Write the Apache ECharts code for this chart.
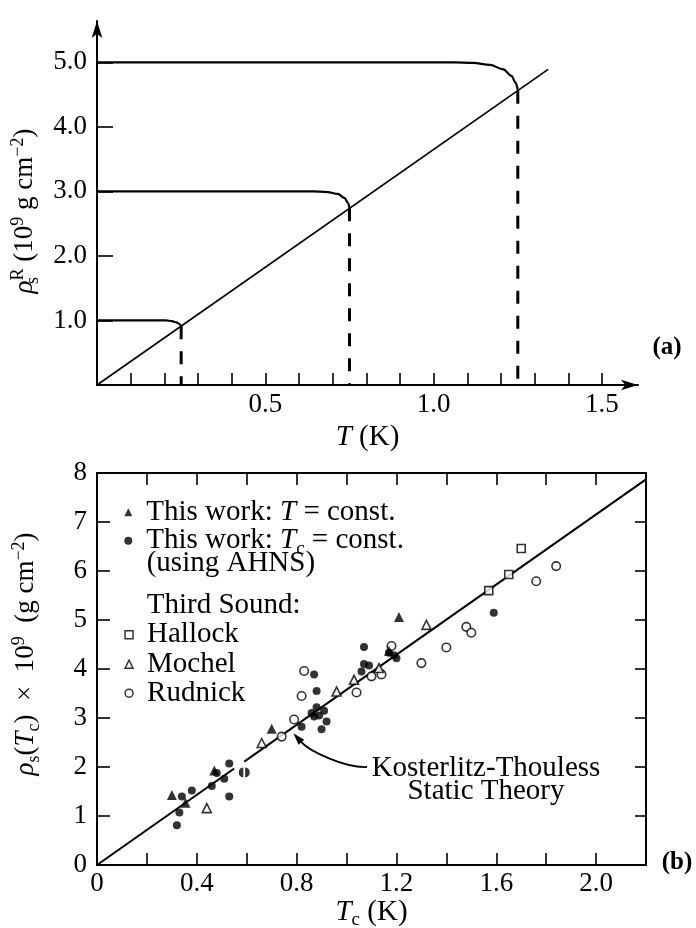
<!DOCTYPE html>
<html>
<head>
<meta charset="utf-8">
<script src="https://cdn.jsdelivr.net/npm/echarts@6/dist/echarts.min.js"></script>
<style>
html,body{margin:0;padding:0;background:#fff;}
#c{width:696px;height:928px;}
</style>
</head>
<body>
<div id="c"></div>
<script>
// ---------- panel (a): renormalized superfluid density vs T ----------
const tTickValues = [0.1,0.2,0.3,0.4,0.5,0.6,0.7,0.8,0.9,1.0,1.1,1.2,1.3,1.4,1.5];
const tLabelValues = [0.5, 1.0, 1.5];
const rhoTickValues = [1, 2, 3, 4, 5];
const curveRho1 = [[0,1.0],[0.205,1.0],[0.222,0.99],[0.236,0.97],[0.245,0.945],[0.25,0.912]];
const curveRho3 = [[0,3.0],[0.64,3.0],[0.685,2.99],[0.715,2.96],[0.735,2.9],[0.746,2.82],[0.75,2.737]];
const curveRho5 = [[0,5.0],[1.06,5.0],[1.117,4.99],[1.167,4.96],[1.207,4.89],[1.231,4.79],[1.244,4.68],[1.25,4.561]];
const dropAt025 = [[0.25,0.912],[0.25,0]];
const dropAt075 = [[0.75,2.737],[0.75,0]];
const dropAt125 = [[1.25,4.561],[1.25,0]];
const universalLine = [[0,0],[1.34,4.89]];

// ---------- panel (b): rho_s(Tc) vs Tc ----------
const tcTickLabels = [0, 0.4, 0.8, 1.2, 1.6, 2.0];
const thisWorkT = [[0.30,1.43],[0.355,1.27],[0.47,1.93],[0.70,2.78],[1.17,4.37],[1.21,5.06]];
const thisWorkTc = [[0.32,0.81],[0.33,1.07],[0.34,1.40],[0.38,1.52],[0.46,1.61],[0.48,1.88],[0.51,1.76],
  [0.53,1.40],[0.53,2.07],[0.82,2.82],[0.86,3.10],[0.87,3.03],[0.88,3.22],[0.89,3.05],[0.91,3.15],
  [0.92,2.93],[0.90,2.77],[0.87,3.89],[0.88,3.55],[1.06,3.95],[1.07,4.10],[1.09,4.07],[1.07,4.45],
  [1.17,4.33],[1.19,4.28],[1.20,4.22],[1.59,5.15]];
const thisWorkTcPair = [[0.59,1.89]];
const hallock = [[1.57,5.60],[1.65,5.93],[1.70,6.46]];
const mochel = [[0.44,1.16],[0.66,2.49],[0.96,3.54],[1.03,3.78],[1.13,4.02],[1.32,4.90]];
const rudnick = [[0.74,2.62],[0.79,2.97],[0.82,3.45],[0.83,3.96],[1.04,3.52],[1.10,3.85],[1.14,3.89],
  [1.18,4.47],[1.30,4.12],[1.40,4.44],[1.48,4.86],[1.50,4.74],[1.76,5.79],[1.84,6.10]];
const ktTheoryLow = [[0,0],[0.55,1.97]];
const ktTheoryHigh = [[0.59,2.11],[2.2,7.87]];
const ktArrowTarget = [0.787, 2.69];

const SERIF = '"Liberation Serif", "DejaVu Serif", serif';
const INK = '#000';

function richSet(F, LH) {
  const s = Math.round(F * 0.66);
  const base = { fontFamily: SERIF, color: INK, lineHeight: LH };
  return {
    r:   Object.assign({}, base, { fontSize: F }),
    f:   Object.assign({}, base, { fontSize: F, padding: [0, 0, 0, 9] }),
    i:   Object.assign({}, base, { fontSize: F, fontStyle: 'italic' }),
    sub: Object.assign({}, base, { fontSize: s, padding: [Math.round(F * 0.58), 0, 0, 0] }),
    subz:Object.assign({}, base, { fontSize: s, width: 0, padding: [Math.round(F * 0.58), 0, 0, 0] }),
    sup: Object.assign({}, base, { fontSize: s, padding: [0, 0, Math.round(F * 0.5), 0] })
  };
}

const tickFont = (F) => ({ fontFamily: SERIF, fontSize: F, color: INK });
const axisLineStyle = { color: INK, width: 2 };
const tickLineStyle = { color: INK, width: 1.6 };

const legendNames = {
  'This work: T = const.': '{f|This work: }{i|T}{r| = const.}',
  'This work: Tc = const.': '{f|This work: }{i|T}{sub|c}{r| = const.}',
  'Hallock': '{f|Hallock}',
  'Mochel': '{f|Mochel}',
  'Rudnick': '{f|Rudnick}'
};

const openStyle = { color: '#fff', borderColor: INK, borderWidth: 1.6 };
const fillStyle = { color: INK };

// one legend block per entry so every row sits at its own height;
// halfH is half the height of the row's text block
function legendRow(name, icon, itemStyle, centerY, halfH) {
  return {
    left: 124.3, top: centerY - halfH, orient: 'vertical', padding: 0,
    itemWidth: 8, itemHeight: 8, selectedMode: false,
    formatter: n => legendNames[n],
    textStyle: { rich: richSet(29, 26) },
    data: [{ name: name, icon: icon, itemStyle: itemStyle }]
  };
}
const legendOpen = { color: '#fff', borderColor: INK, borderWidth: 1.5 };
const legendFill = { color: INK, borderWidth: 0 };

const chart = echarts.init(document.getElementById('c'), null, { renderer: 'canvas' });

chart.setOption({
  animation: false,
  backgroundColor: '#fff',
  grid: [
    { left: 97, right: 58, top: 21, bottom: 543, outerBoundsMode: 'none' },
    { left: 97, right: 50, top: 473, bottom: 63, outerBoundsMode: 'none' }
  ],
  xAxis: [
    {
      gridIndex: 0, type: 'value', min: 0, max: 1.607, interval: 0.1,
      axisLine: { onZero: false, lineStyle: axisLineStyle, symbol: ['none', 'arrow'], symbolSize: [8, 17] },
      axisTick: { inside: true, length: 12, lineStyle: tickLineStyle, customValues: tTickValues },
      axisLabel: { customValues: tLabelValues, formatter: v => v.toFixed(1), margin: 6, ...tickFont(27) },
      splitLine: { show: false },
      name: '{i|T}{r| (K)}', nameLocation: 'middle', nameGap: 36, nameMoveOverlap: false,
      nameTextStyle: { rich: richSet(29, 32) }
    },
    {
      gridIndex: 1, type: 'value', min: 0, max: 2.2, interval: 0.2,
      axisLine: { onZero: false, lineStyle: axisLineStyle },
      axisTick: { inside: true, length: 12, lineStyle: tickLineStyle },
      axisLabel: { customValues: tcTickLabels, formatter: v => (v === 0 ? '0' : v.toFixed(1)), margin: 5, ...tickFont(27) },
      splitLine: { show: false },
      name: '{i|T}{sub|c}{r| (K)}', nameLocation: 'middle', nameGap: 31, nameMoveOverlap: false,
      nameTextStyle: { rich: richSet(29, 32) }
    },
    {
      gridIndex: 1, type: 'value', position: 'top', min: 0, max: 2.2, interval: 0.2,
      axisLine: { onZero: false, lineStyle: axisLineStyle },
      axisTick: { inside: true, length: 12, lineStyle: tickLineStyle },
      axisLabel: { show: false },
      splitLine: { show: false }
    }
  ],
  yAxis: [
    {
      gridIndex: 0, type: 'value', min: 0, max: 5.64, interval: 1,
      axisLine: { onZero: false, lineStyle: axisLineStyle, symbol: ['none', 'arrow'], symbolSize: [8, 17] },
      axisTick: { inside: true, length: 16, lineStyle: tickLineStyle, customValues: rhoTickValues },
      axisLabel: { customValues: rhoTickValues, formatter: v => v.toFixed(1), margin: 10, ...tickFont(27) },
      splitLine: { show: false },
      name: '{i|ρ}{subz|s}{sup|R}{r| (10}{sup|9}{r| g cm}{sup|−2}{r|)}',
      nameLocation: 'middle', nameRotate: 90, nameGap: 57, nameMoveOverlap: false,
      nameTextStyle: { rich: richSet(27, 30), padding: [0, 16, 0, 0] }
    },
    {
      gridIndex: 1, type: 'value', min: 0, max: 8, interval: 1,
      axisLine: { onZero: false, lineStyle: axisLineStyle },
      axisTick: { inside: true, length: 13, lineStyle: tickLineStyle },
      axisLabel: { margin: 10, ...tickFont(27) },
      splitLine: { show: false },
      name: '{i|ρ}{sub|s}{r|(}{i|T}{sub|c}{r|)  ×  10}{sup|9}{r|  (g cm}{sup|−2}{r|)}',
      nameLocation: 'middle', nameRotate: 90, nameGap: 56, nameMoveOverlap: false,
      nameTextStyle: { rich: richSet(27, 30), padding: [0, 0, 0, 30] }
    },
    {
      gridIndex: 1, type: 'value', position: 'right', min: 0, max: 8, interval: 1,
      axisLine: { onZero: false, lineStyle: axisLineStyle },
      axisTick: { inside: true, length: 11, lineStyle: tickLineStyle },
      axisLabel: { show: false },
      splitLine: { show: false }
    }
  ],
  legend: [
    legendRow('This work: T = const.', 'triangle', legendFill, 510.7, 13),
    legendRow('This work: Tc = const.', 'circle', legendFill, 539.3, 16.5),
    legendRow('Hallock', 'rect', legendOpen, 633.3, 13),
    legendRow('Mochel', 'triangle', legendOpen, 662.7, 13),
    legendRow('Rudnick', 'circle', legendOpen, 691.7, 13)
  ],
  series: [
    // panel (a)
    { type: 'line', xAxisIndex: 0, yAxisIndex: 0, data: universalLine, symbol: 'none', silent: true,
      lineStyle: { color: INK, width: 1.7 } },
    { type: 'line', xAxisIndex: 0, yAxisIndex: 0, data: curveRho1, symbol: 'none', smooth: 0.35, smoothMonotone: 'x', silent: true,
      lineStyle: { color: INK, width: 2.2 } },
    { type: 'line', xAxisIndex: 0, yAxisIndex: 0, data: curveRho3, symbol: 'none', smooth: 0.35, smoothMonotone: 'x', silent: true,
      lineStyle: { color: INK, width: 2.2 } },
    { type: 'line', xAxisIndex: 0, yAxisIndex: 0, data: curveRho5, symbol: 'none', smooth: 0.35, smoothMonotone: 'x', silent: true,
      lineStyle: { color: INK, width: 2.2 } },
    { type: 'line', xAxisIndex: 0, yAxisIndex: 0, data: dropAt025, symbol: 'none', silent: true,
      lineStyle: { color: INK, width: 3, type: [13, 12] } },
    { type: 'line', xAxisIndex: 0, yAxisIndex: 0, data: dropAt075, symbol: 'none', silent: true,
      lineStyle: { color: INK, width: 3, type: [13, 12] } },
    { type: 'line', xAxisIndex: 0, yAxisIndex: 0, data: dropAt125, symbol: 'none', silent: true,
      lineStyle: { color: INK, width: 3, type: [13, 12] } },
    // panel (b)
    { type: 'line', xAxisIndex: 1, yAxisIndex: 1, data: ktTheoryLow, symbol: 'none', silent: true,
      lineStyle: { color: INK, width: 2 } },
    { type: 'line', xAxisIndex: 1, yAxisIndex: 1, data: ktTheoryHigh, symbol: 'none', silent: true,
      lineStyle: { color: INK, width: 2 } },
    { name: 'Rudnick', type: 'scatter', xAxisIndex: 1, yAxisIndex: 1, data: rudnick,
      symbol: 'circle', symbolSize: 8.5, itemStyle: openStyle, z: 3 },
    { name: 'Mochel', type: 'scatter', xAxisIndex: 1, yAxisIndex: 1, data: mochel,
      symbol: 'triangle', symbolSize: 9, itemStyle: openStyle, z: 3 },
    { name: 'Hallock', type: 'scatter', xAxisIndex: 1, yAxisIndex: 1, data: hallock,
      symbol: 'rect', symbolSize: 8, itemStyle: openStyle, z: 3 },
    { name: 'This work: Tc = const.', type: 'scatter', xAxisIndex: 1, yAxisIndex: 1, data: thisWorkTc,
      symbol: 'circle', symbolSize: 8, itemStyle: fillStyle, z: 4 },
    { type: 'scatter', xAxisIndex: 1, yAxisIndex: 1, data: thisWorkTcPair,
      symbol: 'path://M4,0A5,5 0 0 0 4,10ZM6,0A5,5 0 0 1 6,10Z', symbolSize: [11, 10], itemStyle: fillStyle, z: 4 },
    { name: 'This work: T = const.', type: 'scatter', xAxisIndex: 1, yAxisIndex: 1, data: thisWorkT,
      symbol: 'triangle', symbolSize: 10, itemStyle: fillStyle, z: 4 }
  ]
});

// annotation texts and the curved pointer to the theory line
const labelFont = (F, w) => (w ? w + ' ' : '') + F + 'px ' + SERIF;
const tip = chart.convertToPixel({ xAxisIndex: 1, yAxisIndex: 1 }, ktArrowTarget);
const tail = [367, 767];
const cp1 = [345, 768];
const cp2 = [tip[0] + 16, tip[1] + 18];
const dx = tip[0] - cp2[0], dy = tip[1] - cp2[1];
const dl = Math.hypot(dx, dy);
const ux = dx / dl, uy = dy / dl;
const headLen = 12, headHalf = 3.8;
const base = [tip[0] - ux * headLen, tip[1] - uy * headLen];

function plainText(x, y, text, font, align) {
  return { type: 'text', x: x, y: y,
    style: { text: text, font: font, fill: INK, align: align, verticalAlign: 'middle', textAlign: align, textVerticalAlign: 'middle' } };
}

chart.setOption({
  graphic: [
    plainText(667, 348, '(a)', labelFont(25, 'bold'), 'center'),
    plainText(677, 863, '(b)', labelFont(25, 'bold'), 'center'),
    plainText(146.7, 563.3, '(using AHNS)', labelFont(29), 'left'),
    plainText(146.7, 605, 'Third Sound:', labelFont(29), 'left'),
    plainText(486, 768, 'Kosterlitz-Thouless', labelFont(29), 'center'),
    plainText(486, 791, 'Static Theory', labelFont(29), 'center'),
    { type: 'bezierCurve', shape: { x1: tail[0], y1: tail[1], cpx1: cp1[0], cpy1: cp1[1], cpx2: cp2[0], cpy2: cp2[1], x2: base[0], y2: base[1] },
      style: { stroke: INK, lineWidth: 1.8, fill: null } },
    { type: 'polygon', shape: { points: [tip, [base[0] - uy * headHalf, base[1] + ux * headHalf], [base[0] + uy * headHalf, base[1] - ux * headHalf]] },
      style: { fill: INK } }
  ]
});
</script>
</body>
</html>
